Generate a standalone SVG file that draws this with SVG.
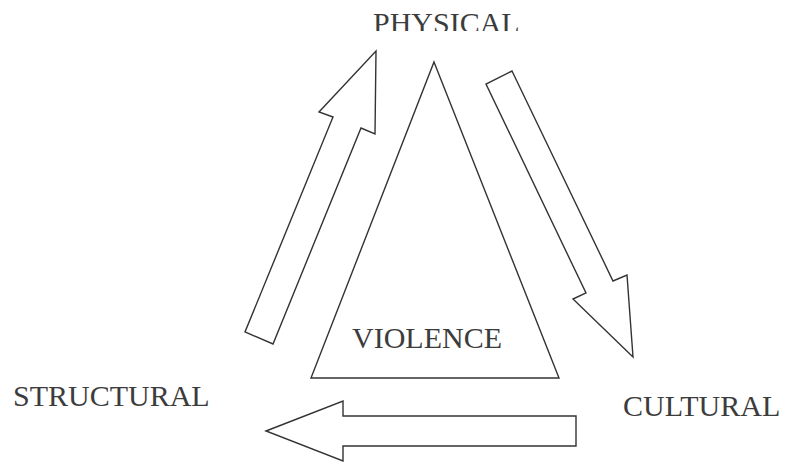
<svg xmlns="http://www.w3.org/2000/svg" width="785" height="462" viewBox="0 0 785 462">
<style>
.shape{fill:#fff;stroke:#333;stroke-width:1.4;stroke-linejoin:miter}
.lbl{font-family:"Liberation Serif","Times New Roman",serif;font-size:30px;fill:#3c3c3c}
</style>
<defs>
<clipPath id="topclip"><rect x="0" y="0" width="785" height="31"/></clipPath>
</defs>
<rect width="785" height="462" fill="#fff"/>
<g id="violence">
<polygon class="shape" points="434,62 559,378 311,378"/>
<text class="lbl" x="352" y="348">VIOLENCE</text>
</g>
<g id="physical">
<text class="lbl" x="373" y="32.5" clip-path="url(#topclip)">PHYSICAL</text>
</g>
<g id="structural">
<text class="lbl" x="13" y="406">STRUCTURAL</text>
</g>
<g id="cultural">
<text class="lbl" x="623" y="416">CULTURAL</text>
</g>
<g id="connectors">
<polygon class="shape" points="376,51 375,134 361,128 273,344 245,332 333,117 319,112"/>
<polygon class="shape" points="512,71 613,281 627,275 633,357 573,299 586,293 486,84"/>
<polygon class="shape" points="266,431 343,401 343,416 576,416 576,446 343,446 343,461"/>
</g>
</svg>
